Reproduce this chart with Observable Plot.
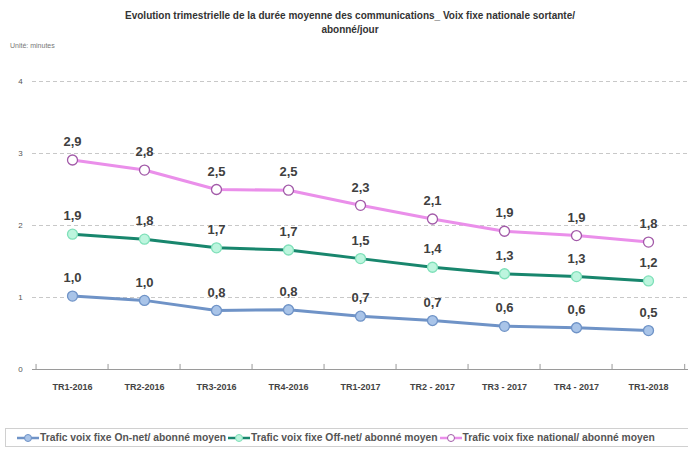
<!DOCTYPE html>
<html><head><meta charset="utf-8">
<script src="https://cdn.jsdelivr.net/npm/d3@7"></script>
<script src="https://cdn.jsdelivr.net/npm/@observablehq/plot@0.6"></script>
<style>
body{margin:0;background:#fff;font-family:"Liberation Sans",Arial,sans-serif;}
#wrap{position:relative;width:688px;height:452px;overflow:hidden;}
#title{position:absolute;left:0;top:9px;width:700px;text-align:center;font-size:10px;font-weight:bold;color:#333;line-height:14px;}
#unit{position:absolute;left:10px;top:42px;font-size:7px;color:#777;}
#chart{position:absolute;left:0;top:40px;}
#legend{position:absolute;left:5px;top:428px;width:700px;height:19px;border:1px solid #d0d0d0;box-sizing:border-box;font-size:10.3px;font-weight:bold;color:#555;display:flex;align-items:center;white-space:nowrap;padding-left:11px;}
.item{display:flex;align-items:center;margin-right:2px;}
.item svg{margin-right:1px;}
</style></head>
<body><div id="wrap">
<div id="title">Evolution trimestrielle de la durée moyenne des communications_ Voix fixe nationale sortante/<br>abonné/jour</div>
<div id="unit">Unité: minutes</div>
<div id="chart"></div>
<div id="legend"></div>
</div>
<script>
const categories = ["TR1-2016","TR2-2016","TR3-2016","TR4-2016","TR1-2017","TR2 - 2017","TR3 - 2017","TR4 - 2017","TR1-2018"];
const onNet = [1.02,0.96,0.82,0.83,0.74,0.68,0.60,0.58,0.54];
const offNet = [1.88,1.81,1.69,1.66,1.54,1.42,1.33,1.29,1.23];
const national = [2.91,2.77,2.50,2.49,2.28,2.09,1.92,1.86,1.77];
const seriesNames = ["Trafic voix fixe On-net/ abonné moyen","Trafic voix fixe Off-net/ abonné moyen","Trafic voix fixe national/ abonné moyen"];
const yTicks = [0,1,2,3,4];

const styles = [
  {line:"#6f93c7", fill:"#a9c4e8", stroke:"#6f93c7"},
  {line:"#18866d", fill:"#bdf5de", stroke:"#7fe0b9"},
  {line:"#ea8fea", fill:"#ffffff", stroke:"#a25aa8"}
];
const allSeries = [onNet, offNet, national];
const data = [];
allSeries.forEach((vals,i)=>vals.forEach((v,j)=>data.push({cat:categories[j], value:v, s:i})));

const fmt = v => v.toFixed(1).replace(".", ",");

const marks = [
  Plot.ruleY(yTicks.filter(d=>d>0), {stroke:"#c8c8c8", strokeDasharray:"4,3", strokeWidth:1}),
  Plot.ruleY([0], {stroke:"#9a9a9a", strokeWidth:1}),
  Plot.ruleX(categories, {x:d=>d, y1:0, y2:0.07, dx:-36.45, stroke:"#9a9a9a"}),
  Plot.ruleX(categories.slice(-1), {x:d=>d, y1:0, y2:0.07, dx:36.2, stroke:"#9a9a9a"}),
];
allSeries.forEach((vals,i)=>{
  const d = data.filter(r=>r.s===i);
  marks.push(Plot.line(d, {x:"cat", y:"value", stroke:styles[i].line, strokeWidth:3}));
  marks.push(Plot.dot(d, {x:"cat", y:"value", r:5, fill:styles[i].fill, stroke:styles[i].stroke, strokeWidth:1.3}));
  marks.push(Plot.text(d, {x:"cat", y:"value", text:r=>fmt(r.value), dy:-18, fontSize:13, fontWeight:"bold", fill:"#404040", fontFamily:"Liberation Sans, Arial, sans-serif"}));
});
marks.push(Plot.axisY(yTicks, {tickSize:0, tickPadding:0, dx:-12, fontSize:8, fill:"#555", textAnchor:"middle", tickFormat:d=>String(d)}));
marks.push(Plot.axisX({tickSize:0, tickPadding:14, fontSize:9, fontWeight:"bold", fill:"#444"}));

const chart = Plot.plot({
  width:688, height:380,
  marginLeft:32, marginRight:0, marginTop:41, marginBottom:51,
  x:{type:"band", domain:categories, padding:0, label:null},
  y:{domain:[0,4], label:null},
  style:{fontFamily:"Liberation Sans, Arial, sans-serif", background:"transparent"},
  marks
});
document.getElementById("chart").appendChild(chart);

const leg = document.getElementById("legend");
seriesNames.forEach((name,i)=>{
  const it = document.createElement("div");
  it.className="item";
  it.innerHTML = `<svg width="22" height="10"><line x1="0" y1="5" x2="22" y2="5" stroke="${styles[i].line}" stroke-width="2.5"/><circle cx="11" cy="5" r="3.5" fill="${styles[i].fill}" stroke="${styles[i].stroke}"/></svg><span>${name}</span>`;
  leg.appendChild(it);
});
</script>
</body></html>
